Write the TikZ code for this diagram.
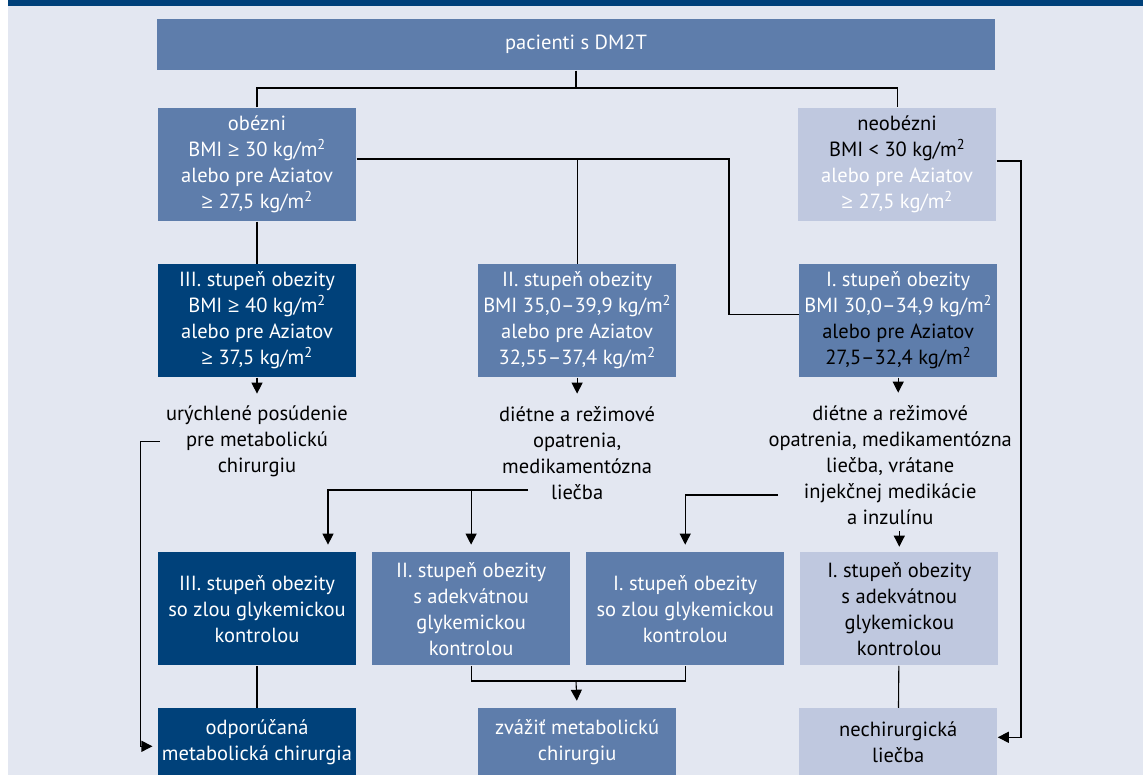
\documentclass[tikz,border=0pt]{standalone}
\usepackage{fontspec}
\setmainfont{PT Sans}
\newfontfamily\symf{Open Sans}
\usepackage{xcolor}
\usepackage{tikz}
\usetikzlibrary{positioning,arrows.meta}
\definecolor{darkblue}{RGB}{0,65,122}
\definecolor{midblue}{RGB}{94,125,171}
\definecolor{lightblue}{RGB}{191,200,223}
\definecolor{paleblue}{RGB}{227,231,241}
\newcommand{\gesign}{{\symf ≥}}
\newcommand{\msq}{kg/m\textsuperscript{2}}
\tikzstyle{box}=[%
      rectangle, draw=none, align=center,
      minimum width=198pt, minimum height=113pt, inner sep=0pt,
      font=\fontsize{20.5}{26}\selectfont
]
\tikzstyle{dk}=[box, fill=darkblue, text=white]
\tikzstyle{md}=[box, fill=midblue, text=white]
\tikzstyle{lt}=[box, fill=lightblue, text=black]
\tikzstyle{inv}=[%
      rectangle, draw=none, align=center, inner sep=6pt,
      font=\fontsize{20.5}{26}\selectfont
]
\begin{document}
\begin{tikzpicture}[x=1pt, y=-1pt,
    >={Triangle[length=11pt,width=11pt]},
    line width=1.1pt,
    low/.style={minimum height=68pt},
]
    \useasboundingbox (0,0) rectangle (1143,775);
    \fill[paleblue] (8,6) rectangle (1143,775);
    \fill[darkblue] (8,0) rectangle (1143,6);

    \node[md, minimum width=838pt, minimum height=51pt] (top) at (576,44.5) {pacienti s DM2T};
    \node[md]  (obez) at (257,164.5) {obézni\\BMI \gesign{} 30 \msq\\alebo pre Aziatov\\\gesign{} 27,5 \msq};
    \node[lt]  (neob) [right = 441pt of obez] {neobézni\\BMI < 30 \msq\\\textcolor{white}{alebo pre Aziatov}\\\textcolor{white}{\gesign{} 27,5 \msq}};

    \node[dk]  (st3) [below = 42pt of obez] {III. stupeň obezity\\BMI \gesign{} 40 \msq\\alebo pre Aziatov\\\gesign{} 37,5 \msq};
    \node[md]  (st2) [right = 121pt of st3] {II. stupeň obezity\\BMI 35,0–39,9 \msq\\alebo pre Aziatov\\32,55–37,4 \msq};
    \node[md]  (st1) [right = 122pt of st2] {I. stupeň obezity\\BMI 30,0–34,9 \msq\\\textcolor{black}{alebo pre Aziatov}\\\textcolor{black}{27,5–32,4 \msq}};

    \node[inv] (t3) [below = 22pt of st3] {urýchlené posúdenie\\pre metabolickú\\chirurgiu};
    \node[inv] (t2) [below = 22pt of st2] {diétne a režimové\\opatrenia,\\medikamentózna\\liečba};
    \node[inv] (t1) [below = 21pt of st1, xshift=-8pt] {diétne a režimové\\opatrenia, medikamentózna\\liečba, vrátane\\injekčnej medikácie\\a inzulínu};

    \node[dk]  (z3) [below = 174pt of st3] {III. stupeň obezity\\so zlou glykemickou\\kontrolou};
    \node[md]  (a2) [right = 15pt of z3] {II. stupeň obezity\\s adekvátnou\\glykemickou\\kontrolou};
    \node[md]  (z1) [right = 15pt of a2] {I. stupeň obezity\\so zlou glykemickou\\kontrolou};
    \node[lt]  (a1) [right = 15pt of z1] {I. stupeň obezity\\s adekvátnou\\glykemickou\\kontrolou};

    \node[dk, low] (r3) [below = 42pt of z3] {odporúčaná\\metabolická chirurgia};
    \node[md, low] (r2) [right = 121pt of r3] {zvážiť metabolickú\\chirurgiu};
    \node[lt, low] (r1) [right = 122pt of r2] {nechirurgická\\liečba};

    % split after the top box
    \coordinate (split) at (576,88);
    \draw (top.south) -- (split);
    \draw (obez.north) |- (split) -| (neob.north);
    \draw (obez) -- (st3);
    \coordinate (k1) at (729,159);
    \draw ([yshift=5.5pt]obez.east) -- (k1) |- ([yshift=6.5pt]st1.west);
    \draw (st2.north) -- (st2.north |- k1);
    \coordinate (k2) at (1021,161);
    \draw[->] ([yshift=3.5pt]neob.east) -- (k2) |- ([yshift=5pt]r1.east);

    % treatment texts
    \draw[->, shorten >=6pt] (st3) -- (t3);
    \draw[->, shorten >=6pt] (st2) -- (t2);
    \draw[->, shorten >=6pt] (st1.south) -- (st1.south |- t1.north);
    \draw[->, shorten >=5pt] (t3.west) -- ++(-19,0) |- ([yshift=-4pt]r3.west);
    \coordinate (k3) at (528,490);
    \draw[->, shorten >=7pt] (k3) -| ([xshift=71pt]z3.north);
    \draw[->, shorten >=7pt] (a2.north |- k3) -- (a2.north);
    \coordinate (k4) at (778,495);
    \draw[->, shorten >=7pt] (k4) -| (z1.north);
    \draw[->, shorten >=5pt] (a1.north |- t1.south) -- (a1.north);

    % last row
    \draw (z3) -- (r3);
    \coordinate (k5) at (576,681);
    \draw (a2.south) |- (k5) -| (z1.south);
    \draw[->, shorten >=7pt] (k5) -- (r2.north);
    \draw (a1) -- (r1);
\end{tikzpicture}
\end{document}
